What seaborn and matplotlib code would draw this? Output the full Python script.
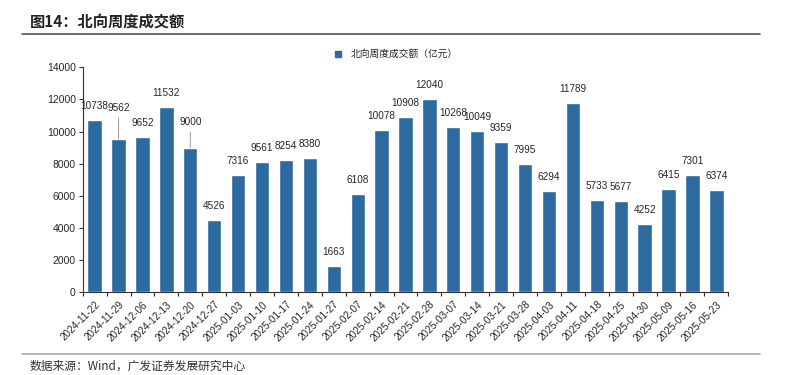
import numpy as np
import pandas as pd
import matplotlib
matplotlib.use("Agg")
import matplotlib.pyplot as plt
import seaborn as sns
from matplotlib.lines import Line2D

dates = ["2024-11-22", "2024-11-29", "2024-12-06", "2024-12-13", "2024-12-20", "2024-12-27",
         "2025-01-03", "2025-01-10", "2025-01-17", "2025-01-24", "2025-01-27", "2025-02-07",
         "2025-02-14", "2025-02-21", "2025-02-28", "2025-03-07", "2025-03-14", "2025-03-21",
         "2025-03-28", "2025-04-03", "2025-04-11", "2025-04-18", "2025-04-25", "2025-04-30",
         "2025-05-09", "2025-05-16", "2025-05-23"]
# bar heights as drawn in the source chart
values = [10738, 9562, 9652, 11532, 9000, 4526, 7316, 8100, 8254, 8380, 1663, 6108,
          10078, 10908, 12040, 10268, 10049, 9359, 7995, 6294, 11789, 5733, 5677, 4252,
          6415, 7301, 6374]
# label text as printed in the source chart
labels = ["10738", "9562", "9652", "11532", "9000", "4526", "7316", "9561", "8254", "8380",
          "1663", "6108", "10078", "10908", "12040", "10268", "10049", "9359", "7995", "6294",
          "11789", "5733", "5677", "4252", "6415", "7301", "6374"]
yticks = [0, 2000, 4000, 6000, 8000, 10000, 12000, 14000]

series_name = "北向周度成交额（亿元）"
bar_color = "#2D6AA0"

df = pd.DataFrame({"date": dates, "value": values})

sns.set_style("white")
plt.rcParams["font.family"] = ["Liberation Sans", "Noto Sans CJK SC"]
cjk = ["Noto Sans CJK SC", "DejaVu Sans"]

fig = plt.figure(figsize=(7.86, 3.75), dpi=100)
ax = fig.add_axes([0.1052, 0.2205, 0.8214, 0.60])

sns.barplot(data=df, x="date", y="value", color=bar_color, saturation=1,
            width=0.6, ax=ax)

ax.set_xlim(-0.5, len(dates) - 0.5)
ax.set_ylim(0, 14000)
ax.set_yticks(yticks)
ax.set_xlabel("")
ax.set_ylabel("")

for s in ["top", "right"]:
    ax.spines[s].set_visible(False)
for s in ["left", "bottom"]:
    ax.spines[s].set_color("#333333")
    ax.spines[s].set_linewidth(0.8)

ax.tick_params(axis="y", direction="out", length=3, width=0.8, color="#333333",
               labelsize=7.5, pad=2, left=True)
ax.set_xticks(range(len(dates)))
ax.set_xticklabels(dates, rotation=45, ha="right", rotation_mode="anchor", fontsize=7.2)
ax.tick_params(axis="x", which="major", length=0, pad=5, bottom=True)
ax.set_xticks(np.arange(-0.5, len(dates), 1), minor=True)
ax.tick_params(axis="x", which="minor", direction="out", length=3, width=0.8,
               color="#333333", bottom=True)

# value labels; two of them are lifted with a leader line
lifted = {1: 31, 4: 26}
for i, (v, t) in enumerate(zip(values, labels)):
    if i in lifted:
        off = lifted[i]
        ax.annotate(t, xy=(i, v), xytext=(0, off), textcoords="offset pixels",
                    ha="center", va="center", fontsize=7.2,
                    arrowprops=dict(arrowstyle="-", color="#999999", lw=0.7,
                                    shrinkA=1.5, shrinkB=0))
    else:
        ax.annotate(t, xy=(i, v), xytext=(0, 14), textcoords="offset pixels",
                    ha="center", va="center", fontsize=7.2)

handle = Line2D([], [], marker="s", linestyle="none", markersize=5,
                markerfacecolor=bar_color, markeredgecolor=bar_color)
fig.legend([handle], [series_name], loc="center", bbox_to_anchor=(0.5, 1 - 54 / 375),
           frameon=False, handletextpad=0.3, prop={"family": cjk, "size": 7})

fig.text(30 / 786, 1 - 22 / 375, "图14：北向周度成交额", family=cjk, fontsize=11,
         fontweight="bold", va="center", ha="left", color="#222222")
fig.add_artist(Line2D([22 / 786, 760 / 786], [1 - 34 / 375, 1 - 34 / 375],
                      color="#555555", lw=1.2, transform=fig.transFigure))
fig.add_artist(Line2D([22 / 786, 760 / 786], [1 - 354 / 375, 1 - 354 / 375],
                      color="#aaaaaa", lw=1.2, transform=fig.transFigure))
fig.text(30 / 786, 1 - 366 / 375, "数据来源：Wind，广发证券发展研究中心", family=cjk,
         fontsize=8.5, va="center", ha="left", color="#333333")

fig.savefig("out.png", dpi=100)
